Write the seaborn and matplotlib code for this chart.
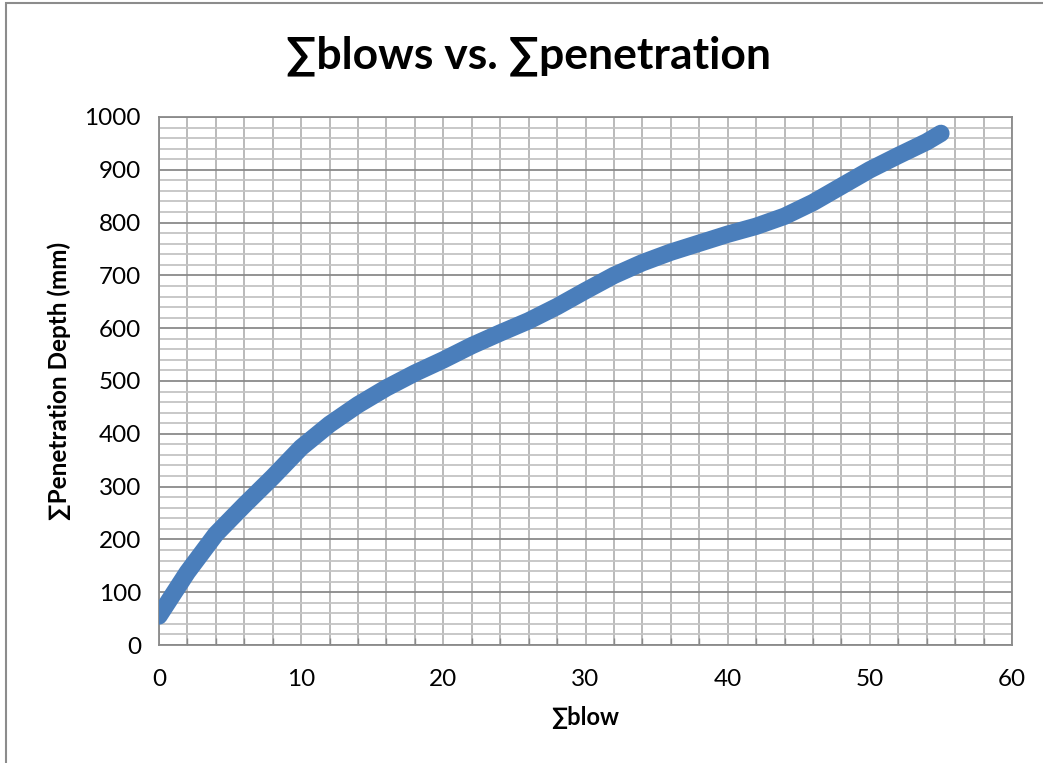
import matplotlib
matplotlib.use("Agg")
import matplotlib.pyplot as plt
from matplotlib.patches import Rectangle
from matplotlib.ticker import MultipleLocator
import pandas as pd
import seaborn as sns

# Cumulative blows and cumulative penetration depth (mm)
blows = [0, 2, 4, 6, 8, 10, 12, 14, 16, 18, 20, 22, 24, 26, 28,
         30, 32, 34, 36, 38, 40, 42, 44, 46, 48, 50, 52, 54, 55]
penetration = [55, 138, 210, 265, 318, 374, 418, 455, 487, 515, 540, 567, 591, 614, 641,
               671, 700, 724, 744, 761, 778, 793, 812, 838, 869, 900, 927, 953, 969]

title = "∑blows vs. ∑penetration"
x_label = "∑blow"
y_label = "∑Penetration Depth (mm)"

df = pd.DataFrame({"blows": blows, "penetration": penetration})

sns.set_theme(style="white")
fam = ["Lato", "DejaVu Sans"]
plt.rcParams["font.family"] = fam
plt.rcParams["text.color"] = "black"
plt.rcParams["axes.labelcolor"] = "black"

fig = plt.figure(figsize=(10.43, 7.63), dpi=100)
ax = fig.add_axes([159 / 1043, 118 / 763, 853 / 1043, 528 / 763])

# chart-area frame
fig.patches.append(Rectangle((6 / 1043, -0.05), 1.2, 1.05 - 3 / 763,
                             transform=fig.transFigure, fill=False,
                             edgecolor="#8c8c8c", linewidth=1.5, zorder=0))

sns.lineplot(data=df, x="blows", y="penetration", ax=ax, color="#4a7ebb",
             linewidth=12.5, solid_capstyle="round", solid_joinstyle="round",
             zorder=5)

ax.set_xlim(0, 60)
ax.set_ylim(0, 1000)
ax.xaxis.set_major_locator(MultipleLocator(10))
ax.xaxis.set_minor_locator(MultipleLocator(2))
ax.yaxis.set_major_locator(MultipleLocator(100))
ax.yaxis.set_minor_locator(MultipleLocator(20))

ax.grid(which="minor", axis="y", color="#c4c4c4", linewidth=1.3)
ax.grid(which="major", axis="y", color="#8a8a8a", linewidth=1.3)
ax.grid(which="both", axis="x", color="#b4b4b4", linewidth=1.3)
ax.set_axisbelow(True)

for side in ["left", "bottom", "top", "right"]:
    ax.spines[side].set_color("#8a8a8a")
    ax.spines[side].set_linewidth(1.3)

ax.tick_params(axis="both", which="major", direction="out", length=6, width=1,
               color="#8a8a8a", labelsize=17.5, pad=7, labelcolor="black")
ax.tick_params(axis="x", which="minor", direction="in", length=5, width=1,
               color="#8a8a8a", bottom=True)
ax.tick_params(axis="y", which="minor", left=False)
ax.tick_params(axis="x", which="major", pad=11)

ax.set_xlabel(x_label, fontsize=17, fontweight="bold", family=fam, labelpad=12,
              color="black")
ax.set_ylabel(y_label, fontsize=17.5, fontweight="bold", family=fam, labelpad=10,
              color="black")
fig.text(529 / 1043, 1 - 56 / 763, title, ha="center", va="center",
         fontsize=32, fontweight="bold", family=fam, color="black")

fig.savefig("out.png", dpi=100, facecolor="white")
